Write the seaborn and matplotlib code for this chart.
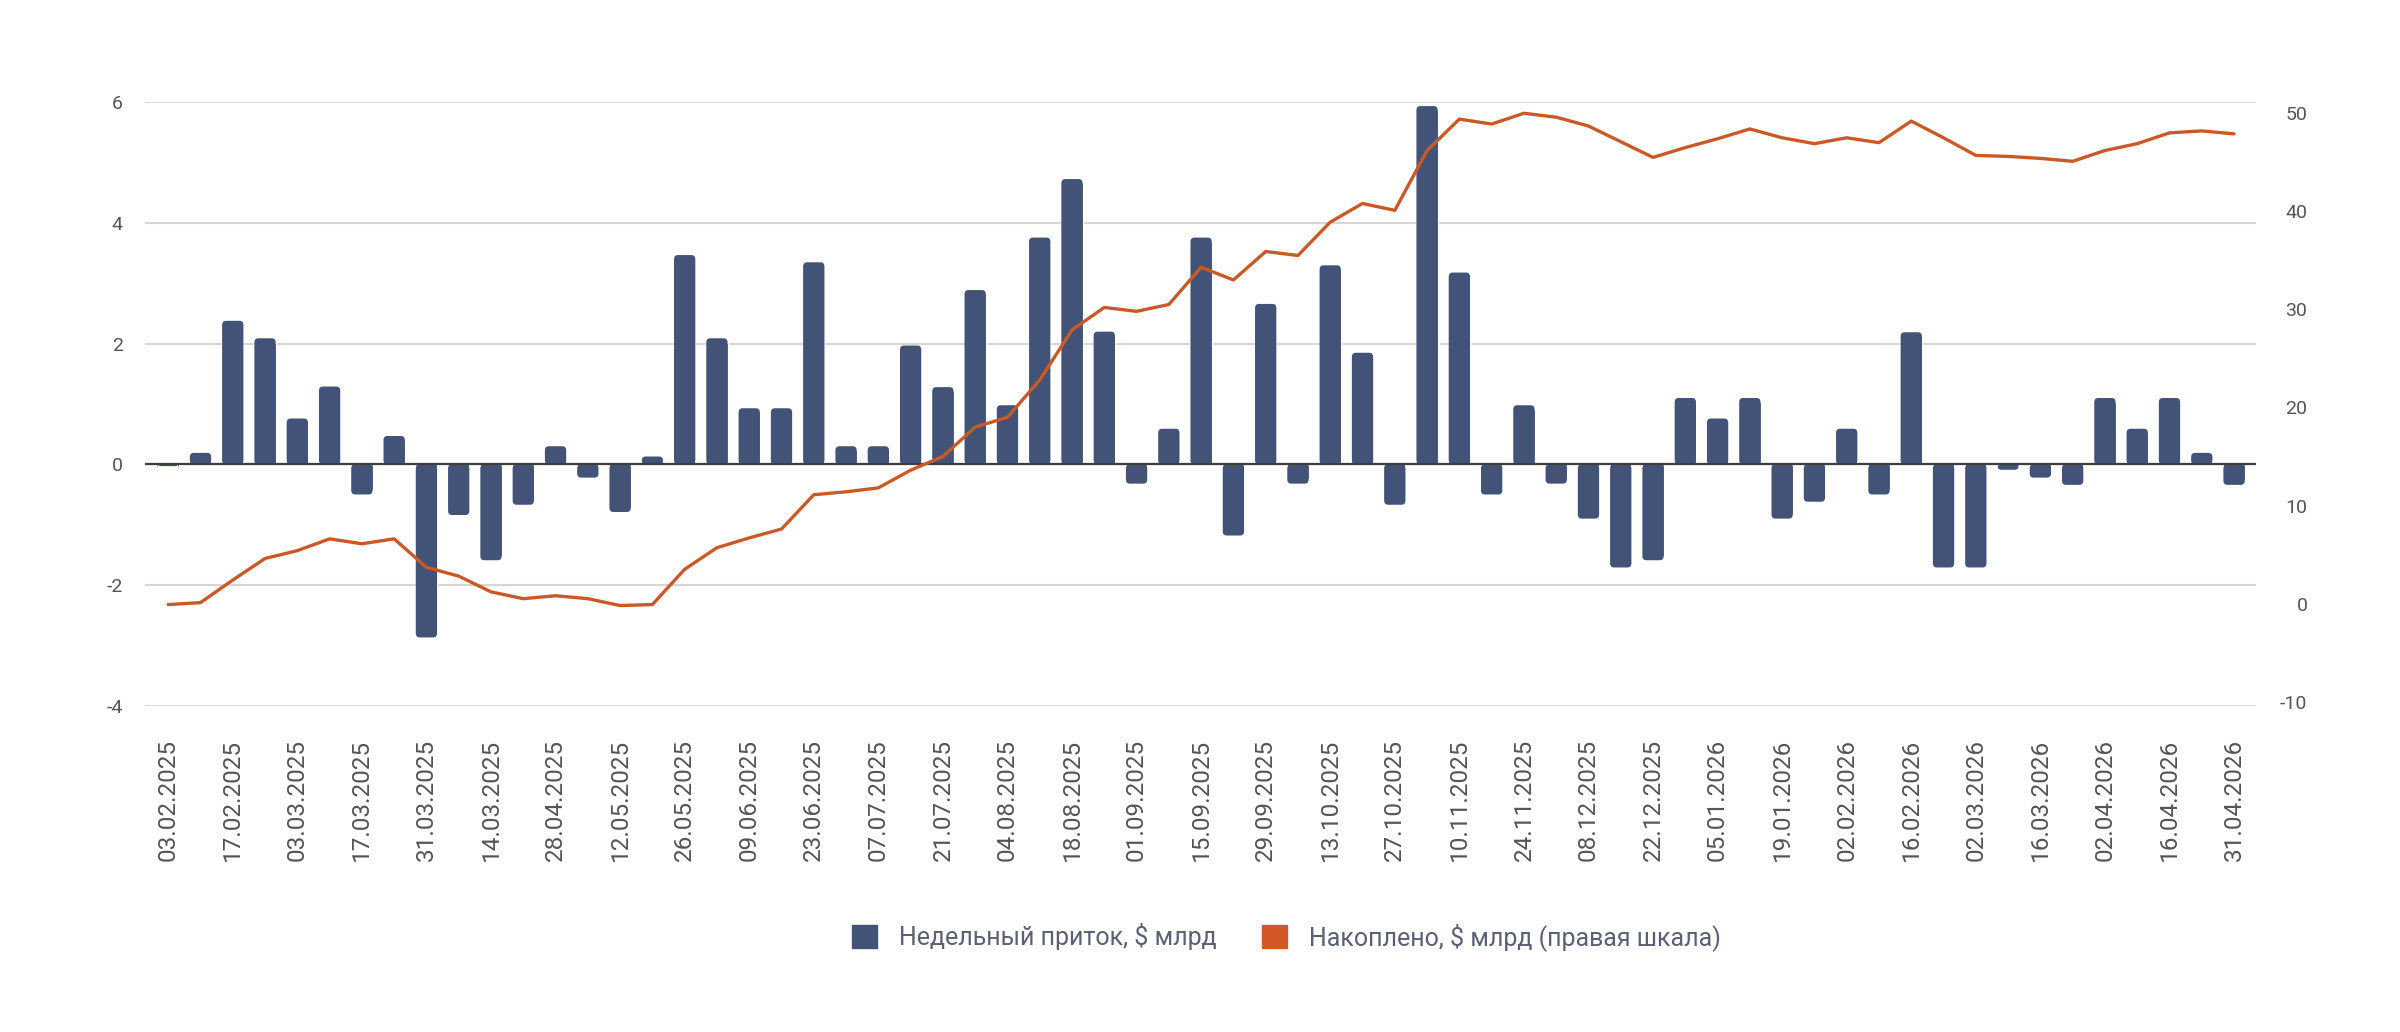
import matplotlib
matplotlib.use("Agg")
import matplotlib.pyplot as plt
from matplotlib.patches import Patch, FancyBboxPatch
import pandas as pd
import seaborn as sns

# подписи оси X (каждая вторая неделя, как на исходнике)
tick_labels = [
    "03.02.2025", "17.02.2025", "03.03.2025", "17.03.2025", "31.03.2025",
    "14.03.2025", "28.04.2025", "12.05.2025", "26.05.2025", "09.06.2025",
    "23.06.2025", "07.07.2025", "21.07.2025", "04.08.2025", "18.08.2025",
    "01.09.2025", "15.09.2025", "29.09.2025", "13.10.2025", "27.10.2025",
    "10.11.2025", "24.11.2025", "08.12.2025", "22.12.2025", "05.01.2026",
    "19.01.2026", "02.02.2026", "16.02.2026", "02.03.2026", "16.03.2026",
    "02.04.2026", "16.04.2026", "31.04.2026",
]

# недельный приток, $ млрд
weekly_flow = [
    -0.03, 0.19, 2.38, 2.09, 0.76, 1.29, -0.50, 0.47, -2.87, -0.84,
    -1.59, -0.67, 0.30, -0.22, -0.79, 0.13, 3.47, 2.09, 0.93, 0.93,
    3.35, 0.30, 0.30, 1.97, 1.28, 2.89, 0.98, 3.76, 4.73, 2.20,
    -0.32, 0.59, 3.76, -1.18, 2.66, -0.32, 3.30, 1.85, -0.67, 5.94,
    3.18, -0.50, 0.98, -0.32, -0.90, -1.71, -1.59, 1.10, 0.76, 1.10,
    -0.90, -0.62, 0.59, -0.50, 2.19, -1.71, -1.71, -0.09, -0.22, -0.34,
    1.10, 0.59, 1.10, 0.19, -0.34,
]

# накоплено, $ млрд (правая шкала)
accumulated = [
    -0.1, 0.1, 2.4, 4.6, 5.4, 6.6, 6.1, 6.6, 3.7, 2.8,
    1.2, 0.5, 0.8, 0.5, -0.2, -0.1, 3.5, 5.7, 6.7, 7.6,
    11.1, 11.4, 11.8, 13.6, 15.0, 18.0, 19.0, 22.8, 27.9, 30.2,
    29.8, 30.5, 34.3, 33.0, 35.9, 35.5, 38.9, 40.8, 40.1, 46.2,
    49.4, 48.9, 50.0, 49.6, 48.7, 47.1, 45.5, 46.5, 47.4, 48.4,
    47.5, 46.9, 47.5, 47.0, 49.2, 47.5, 45.7, 45.6, 45.4, 45.1,
    46.2, 46.9, 48.0, 48.2, 47.9,
]

BAR = "#425377"
LINE = "#C95A28"
LEGEND_LINE = "#D2582A"
TEXT = "#555555"


def round_bar_ends(ax, rx=0.12, ry=0.07):
    # скругляем только внешний конец столбика, основание остаётся плоским
    for rect in list(ax.patches):
        x, y = rect.get_x(), rect.get_y()
        w, h = rect.get_width(), rect.get_height()
        bottom = min(y, y + h)
        rounded = FancyBboxPatch(
            (x, bottom), w, abs(h),
            boxstyle=f"round,pad=0,rounding_size={rx}",
            mutation_aspect=ry / rx,
            facecolor=rect.get_facecolor(), edgecolor="none",
            zorder=rect.get_zorder(),
        )
        ax.add_patch(rounded)
        if h >= 0:
            rect.set_height(max(h - ry, 0))
        else:
            rect.set_y(0)
            rect.set_height(min(h + ry, 0))


def main():
    sns.set_theme(style="white")
    plt.rcParams["font.family"] = ["Roboto", "DejaVu Sans"]
    plt.rcParams["axes.unicode_minus"] = False

    df = pd.DataFrame({
        "week": range(len(weekly_flow)),
        "flow": weekly_flow,
        "total": accumulated,
    })

    fig = plt.figure(figsize=(24, 10.32), dpi=100)
    ax = fig.add_axes([0.0604, 0.3163, 0.8796, 0.5844])

    sns.barplot(data=df, x="week", y="flow", color=BAR, width=0.66,
                saturation=1, ax=ax, zorder=2)
    round_bar_ends(ax)
    ax.set_ylim(-4, 6)
    ax.set_yticks([-4, -2, 0, 2, 4, 6])
    ax.set_xlim(-0.72, 64.68)
    ax.set_xticks(range(0, len(weekly_flow), 2))
    ax.set_xticklabels(tick_labels, rotation=90, fontsize=17.5, color=TEXT)
    ax.grid(axis="y", color="#d6d6d6", lw=1.5)
    ax.set_axisbelow(True)
    ax.axhline(0, color="#3d3d3d", lw=1.6, zorder=3)
    ax.tick_params(axis="y", labelsize=14, labelcolor=TEXT, length=0, pad=16)
    ax.tick_params(axis="x", length=0, pad=24)
    ax.set_xlabel("")
    ax.set_ylabel("")
    sns.despine(ax=ax, left=True, bottom=True)

    ax2 = ax.twinx()
    sns.lineplot(data=df, x="week", y="total", color=LINE, lw=2.4, ax=ax2)
    ax2.set_ylim(-10.4, 51.1)
    ax2.set_yticks([-10, 0, 10, 20, 30, 40, 50])
    ax2.tick_params(axis="y", labelsize=14, labelcolor=TEXT, length=0, pad=37)
    for lbl in ax2.get_yticklabels():
        lbl.set_horizontalalignment("right")
    ax2.set_ylabel("")
    ax2.grid(False)
    for s in ax2.spines.values():
        s.set_visible(False)

    handles = [Patch(color=BAR), Patch(color=LEGEND_LINE)]
    labels = ["Недельный приток, $ млрд", "Накоплено, $ млрд (правая шкала)"]
    fig.legend(handles, labels, loc="center", bbox_to_anchor=(0.536, 0.092),
               ncol=2, frameon=False, fontsize=18, labelcolor="#5b6174",
               handlelength=1.0, handleheight=1.0, columnspacing=1.8,
               handletextpad=0.9)

    fig.savefig("out.png", dpi=100)


if __name__ == "__main__":
    main()
